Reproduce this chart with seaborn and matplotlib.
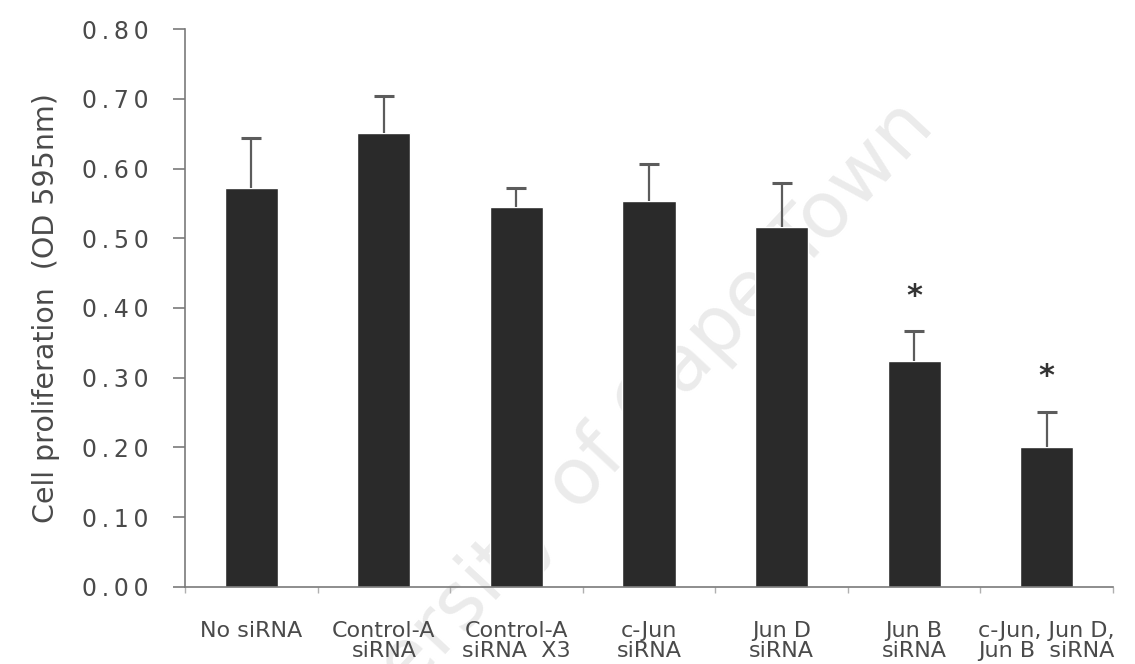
import numpy as np
import pandas as pd
import matplotlib
matplotlib.use("Agg")
import matplotlib.pyplot as plt
import seaborn as sns

# Treatment groups, mean proliferation and upper error (OD 595 nm)
groups = ["No siRNA", "Control-A\nsiRNA", "Control-A\nsiRNA  X3", "c-Jun\nsiRNA",
          "Jun D\nsiRNA", "Jun B\nsiRNA", "c-Jun, Jun D,\nJun B  siRNA"]
means = [0.572, 0.651, 0.545, 0.553, 0.516, 0.324, 0.201]
errors = [0.072, 0.053, 0.027, 0.054, 0.063, 0.043, 0.050]
significant = [False, False, False, False, False, True, True]
y_ticks = [0.00, 0.10, 0.20, 0.30, 0.40, 0.50, 0.60, 0.70, 0.80]
y_label = "Cell proliferation  (OD 595nm)"
watermark = "University of Cape Town"

sns.set_style("ticks")
plt.rcParams["font.family"] = ["DejaVu Sans"]

text_grey = "#4a4a4a"
axis_grey = "#7a7a7a"

fig = plt.figure(figsize=(11.35, 6.64), dpi=100)
ax = fig.add_axes([0.163, 0.1164, 0.8176, 0.8395])

df = pd.DataFrame({"group": groups, "mean": means})
sns.barplot(data=df, x="group", y="mean", color="#2a2a2a", saturation=1,
            width=0.40, errorbar=None, ax=ax, zorder=2)

# one-sided (upper) error bars
x = np.arange(len(groups))
_, caps, _ = ax.errorbar(x, means, yerr=[np.zeros(len(errors)), errors],
                         fmt="none", ecolor="#5c5c5c", elinewidth=1.6,
                         capsize=7, capthick=2.2, zorder=3)
caps[0].set_visible(False)

# significance markers above the error bars
for xi, m, e, s in zip(x, means, errors, significant):
    if s:
        ax.text(xi, m + e + 0.05, "*", ha="center", va="center",
                fontsize=22, fontweight="bold", color="#333333", zorder=4)

ax.set_xlim(-0.5, len(groups) - 0.5)
ax.set_ylim(0, 0.80)
ax.set_yticks(y_ticks)
ax.set_yticklabels(["\u2009".join(f"{v:.2f}") for v in y_ticks],
                   fontsize=17, color=text_grey)
ax.set_xticks(x)
ax.set_xticklabels(groups, fontsize=16, color=text_grey, linespacing=1.0)
ax.set_xlabel("")
ax.set_ylabel(y_label, fontsize=20.5, color=text_grey, labelpad=16)

ax.tick_params(axis="y", length=9, width=1.2, color=axis_grey, pad=17)
ax.tick_params(axis="x", which="major", length=0, pad=25)
ax.set_xticks(np.arange(-0.5, len(groups), 1.0), minor=True)
ax.tick_params(axis="x", which="minor", length=4, width=1.0, color="#b0b0b0",
               direction="out")

for side in ("top", "right"):
    ax.spines[side].set_visible(False)
for side in ("left", "bottom"):
    ax.spines[side].set_color(axis_grey)
    ax.spines[side].set_linewidth(1.2)

ax.text(0.443, 0.225, watermark, transform=ax.transAxes, rotation=47,
        rotation_mode="anchor", ha="center", va="center", fontsize=57,
        color="#ebebeb", zorder=0.5, clip_on=False)

fig.savefig("out.png", dpi=100)
